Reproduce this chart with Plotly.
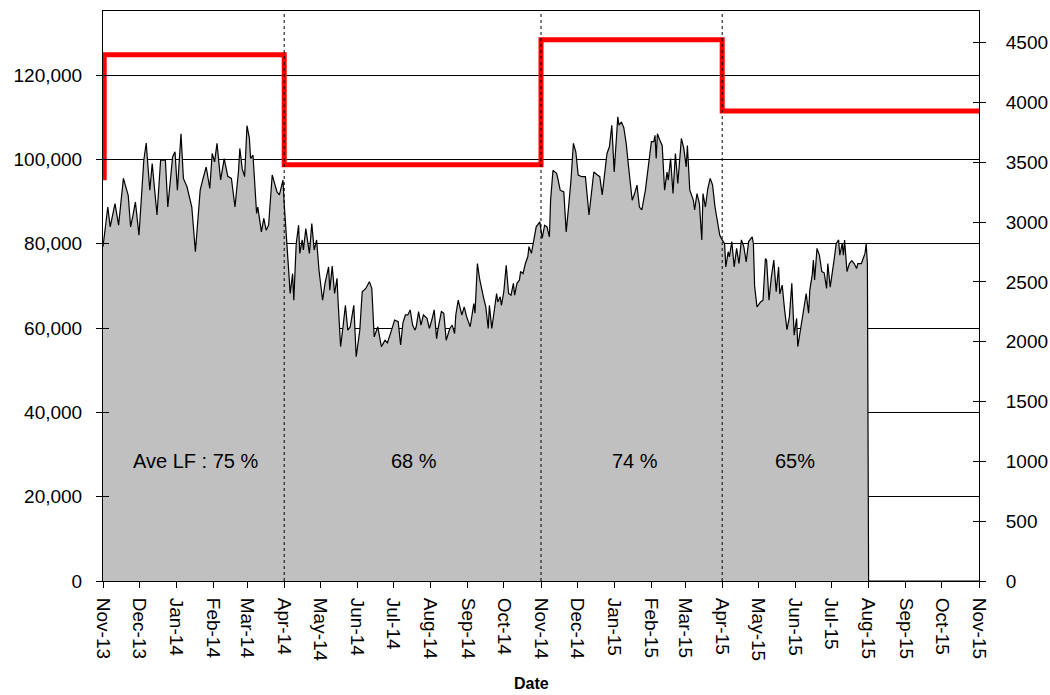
import pandas as pd
import plotly.graph_objects as go

START = "2013-11-01"

# daily traffic (days since 1 Nov 2013, value)
day_offset = [
    0, 4, 6, 10, 13, 17, 21, 23, 25, 27, 30, 34, 36, 39, 41, 45, 48, 52, 54, 58,
    60, 62, 65, 67, 70, 74, 77, 81, 83, 86, 89, 91, 93, 95, 98, 101, 104, 107, 110, 113,
    114, 116, 118, 120, 122, 123, 125, 127, 128, 129, 132, 134, 136, 138, 141, 143, 145, 147, 150, 151,
    152, 154, 156, 158, 159, 161, 163, 164, 166, 167, 169, 172, 174, 176, 178, 180, 183, 185, 188, 189,
    191, 193, 195, 196, 198, 200, 202, 204, 206, 209, 211, 214, 216, 219, 222, 224, 226, 229, 232, 235,
    237, 240, 243, 246, 248, 250, 252, 254, 256, 258, 260, 261, 263, 265, 267, 270, 272, 274, 276, 278,
    279, 282, 284, 286, 289, 291, 293, 294, 296, 299, 301, 303, 306, 309, 310, 312, 314, 317, 319, 321,
    322, 324, 326, 328, 329, 331, 332, 334, 336, 338, 340, 342, 343, 345, 347, 348, 350, 352, 354, 355,
    357, 359, 361, 364, 366, 368, 370, 372, 373, 375, 378, 379, 381, 384, 385, 386, 388, 390, 392, 394,
    396, 399, 402, 404, 405, 407, 409, 412, 414, 416, 418, 420, 422, 424, 426, 429, 430, 432, 434, 436,
    438, 440, 441, 443, 445, 447, 449, 452, 454, 457, 459, 460, 461, 462, 464, 466, 468, 470, 471, 473,
    475, 477, 479, 482, 484, 486, 487, 489, 492, 493, 495, 497, 499, 500, 502, 504, 506, 508, 510, 512,
    514, 516, 518, 519, 521, 522, 524, 526, 528, 530, 532, 534, 536, 538, 541, 542, 543, 545, 548, 550,
    552, 553, 555, 557, 559, 561, 563, 564, 566, 568, 570, 572, 574, 576, 578, 579, 581, 583, 585, 586,
    588, 589, 591, 592, 593, 595, 597, 599, 601, 603, 604, 606, 609, 611, 613, 614, 616, 617, 618, 620,
    622, 624, 626, 628, 629, 632, 634, 635, 636, 637, 638, 730,
]
traffic = [
    79300, 88700, 84000, 89500, 84400, 95500, 91500, 84000, 86800, 89900, 82000, 99800, 103900, 92700, 99000, 86800, 99800, 99800, 88700, 100600,
    101800, 92700, 106100, 95500, 93500, 88700, 78100, 92700, 95100, 98200, 93100, 101400, 99400, 103800, 95100, 100200, 96000, 95500, 88700, 97500,
    102600, 97800, 95900, 108000, 105000, 100200, 101000, 92000, 87200, 88700, 82800, 86000, 83200, 84400, 96300, 94300, 92300, 91600, 95100, 89500,
    84800, 77700, 68200, 72900, 66600, 80000, 84400, 77700, 80900, 78500, 83600, 77700, 84800, 78500, 80900, 73700, 66600, 70600, 74500, 69000,
    74700, 68200, 71800, 65800, 55600, 60300, 65400, 59500, 60300, 65400, 53200, 59500, 68600, 69400, 71000, 69400, 57900, 60300, 55600, 57100,
    56500, 59100, 61900, 61500, 56000, 61300, 63100, 63100, 64300, 60700, 59500, 60300, 63900, 60700, 63100, 62300, 59900, 61900, 64300, 57500,
    59500, 63900, 63500, 57100, 59900, 60700, 58700, 63100, 66600, 63100, 65000, 62700, 60300, 65800, 63500, 75300, 71400, 67400, 65000, 59900,
    65400, 59900, 63500, 68200, 66200, 67400, 65400, 68600, 74900, 68200, 67800, 70600, 67800, 70600, 71400, 73400, 72900, 75300, 76900, 79300,
    77700, 80900, 84000, 85200, 81300, 84400, 84000, 81600, 90300, 97400, 96700, 95500, 92700, 92300, 88000, 82800, 88700, 95100, 103800, 101800,
    96300, 95900, 95900, 90300, 86800, 91900, 97000, 96300, 95900, 91600, 97000, 101400, 103000, 108100, 97000, 110100, 108100, 108900, 107500, 103800,
    98200, 91900, 90300, 91900, 93900, 88700, 88000, 92700, 97400, 104200, 104200, 105700, 100200, 106100, 104600, 103300, 92700, 97000, 95100, 100200,
    91900, 101400, 94300, 105000, 102600, 98200, 103300, 92700, 90300, 88000, 91900, 89500, 80900, 91900, 88700, 93100, 95500, 93900, 88700, 84800,
    82000, 80900, 80000, 74500, 78100, 76900, 80500, 74500, 78900, 75300, 80900, 79300, 75700, 80500, 81600, 80000, 70000, 65000, 66200, 66600,
    76500, 76100, 66600, 72200, 76100, 68600, 74500, 68100, 70200, 64300, 59600, 62700, 70600, 58300, 62300, 55600, 59100, 62300, 66600, 68200,
    63500, 69000, 72600, 76100, 71400, 78900, 77300, 73400, 73100, 69400, 75300, 69700, 75700, 80000, 80900, 77300, 80000, 77300, 80900, 73400,
    75300, 76000, 75300, 74100, 75300, 75300, 76900, 77700, 80000, 75300, 0, 0,
]

# capacity step line (right axis)
cap_day_offset = [0, 1, 151, 365, 516, 730]
capacity = [3370, 4400, 3480, 4525, 3930, 3930]

season_breaks = ["2014-04-01", "2014-11-01", "2015-04-01"]
lf_labels = ["Ave LF : 75 %", "68 %", "74 %", "65%"]
lf_label_dates = ["2014-01-17", "2014-07-18", "2015-01-18", "2015-06-01"]
lf_label_value = 28500

start = pd.Timestamp(START)
dates = start + pd.to_timedelta(day_offset, unit="D")
cap_dates = start + pd.to_timedelta(cap_day_offset, unit="D")

FONT = "Liberation Sans, Arial, sans-serif"

fig = go.Figure()
fig.add_trace(go.Scatter(
    x=dates, y=traffic, mode="lines", fill="tozeroy",
    fillcolor="#C0C0C0", line=dict(color="black", width=1.2),
    yaxis="y", showlegend=False, hoverinfo="skip",
))
fig.add_trace(go.Scatter(
    x=cap_dates, y=capacity, mode="lines", line_shape="hv",
    line=dict(color="#FF0000", width=5), yaxis="y2", showlegend=False,
    hoverinfo="skip",
))
# dummy traces for cross-tick overlay axes
fig.add_trace(go.Scatter(x=[None], y=[None], yaxis="y3", showlegend=False, hoverinfo="skip"))
fig.add_trace(go.Scatter(x=[None], y=[None], yaxis="y4", showlegend=False, hoverinfo="skip"))

for d in season_breaks:
    fig.add_shape(type="line", xref="x", yref="paper", x0=d, x1=d, y0=0, y1=1,
                  line=dict(color="black", width=1, dash="dot"), layer="above")

for txt, d in zip(lf_labels, lf_label_dates):
    fig.add_annotation(x=d, y=lf_label_value, xref="x", yref="y", text=txt,
                       showarrow=False, font=dict(family=FONT, size=20, color="black"))

fig.add_annotation(x=0.4886, y=-0.18, xref="paper", yref="paper", text="<b>Date</b>",
                   showarrow=False, yanchor="middle", font=dict(family=FONT, size=16, color="black"))

L_RANGE = [0, 135200]
R_RANGE = [0, 4765]

fig.update_layout(
    width=1050, height=695,
    margin=dict(l=103, r=71, t=11, b=114, autoexpand=False),
    paper_bgcolor="white", plot_bgcolor="white",
    font=dict(family=FONT, size=18, color="black"),
    xaxis=dict(
        type="date", range=["2013-11-01", "2015-11-01"], tick0="2013-11-01", dtick="M1",
        tickformat="%b-%y", tickangle=90, ticks="outside", ticklen=6, tickcolor="black",
        showgrid=False, showline=True, linecolor="black", linewidth=1, mirror=True,
        tickfont=dict(family=FONT, size=19), zeroline=False, ticklabelstandoff=6,
        automargin=False,
    ),
    yaxis=dict(
        range=L_RANGE, dtick=20000, tickformat=",", ticks="outside", ticklen=6,
        tickcolor="black", showgrid=True, gridcolor="black", gridwidth=1,
        showline=True, linecolor="black", linewidth=1, zeroline=False,
        tickfont=dict(family=FONT, size=19), ticklabelstandoff=10, automargin=False,
    ),
    yaxis3=dict(
        range=L_RANGE, dtick=20000, overlaying="y", side="left", ticks="inside",
        ticklen=6, tickcolor="black", showticklabels=False, showgrid=False,
        showline=False, zeroline=False, automargin=False,
    ),
    yaxis2=dict(
        range=R_RANGE, dtick=500, overlaying="y", side="right", ticks="outside",
        ticklen=6, tickcolor="black", showgrid=False, showline=True,
        linecolor="black", linewidth=1, zeroline=False, tickformat="d",
        tickfont=dict(family=FONT, size=19), ticklabelstandoff=16, automargin=False,
    ),
    yaxis4=dict(
        range=R_RANGE, dtick=500, overlaying="y", side="right", ticks="inside",
        ticklen=6, tickcolor="black", showticklabels=False, showgrid=False,
        showline=False, zeroline=False, automargin=False,
    ),
)

fig.write_html("out.html", config={"displayModeBar": False},
               post_script="document.body.style.margin='0';")
